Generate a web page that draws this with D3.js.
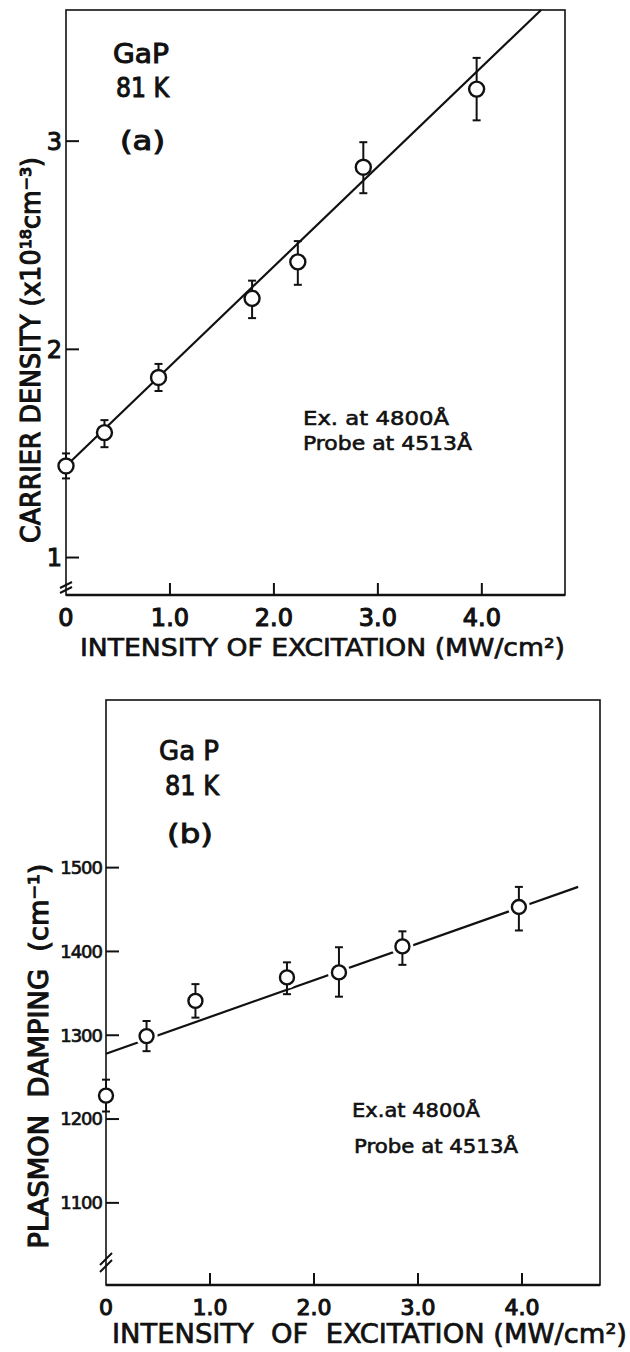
<!DOCTYPE html>
<html>
<head>
<meta charset="utf-8">
<script src="https://cdn.jsdelivr.net/npm/d3@7"></script>
<style>
   body { margin: 0; background: #fff; }
   text { font-family: "DejaVu Sans", "Liberation Sans", sans-serif; fill: #111; white-space: pre; }
</style>
</head>
<body>
<div id="chart"></div>
<script>
// ---- panel (a): carrier density vs intensity ----
var intensityA = [0, 0.37, 0.89, 1.79, 2.23, 2.86, 3.95];
var densityA = [1.44, 1.60, 1.865, 2.245, 2.42, 2.875, 3.25];
var densityLoA = [1.38, 1.53, 1.80, 2.15, 2.31, 2.75, 3.10];
var densityHiA = [1.50, 1.66, 1.93, 2.33, 2.52, 2.995, 3.40];
var fitA = [[0, 1.44], [4.57, 3.63]];
var yTicksA = [1, 2, 3];

// ---- panel (b): plasmon damping vs intensity ----
var intensityB = [0, 0.39, 0.86, 1.74, 2.24, 2.85, 3.97];
var dampingB = [1228, 1299, 1341, 1369, 1375, 1406, 1453];
var dampingLoB = [1209, 1281, 1321, 1349, 1346, 1384, 1425];
var dampingHiB = [1247, 1317, 1361, 1387, 1405, 1424, 1477];
var fitB = [[0, 1278], [4.54, 1477]];
var yTicksB = [1100, 1200, 1300, 1400, 1500];

// shared x ticks
var xTicks = [0, 1, 2, 3, 4];
var xTickLabels = ["0", "1.0", "2.0", "3.0", "4.0"];

var svg = d3.select("#chart")
   .append("svg")
   .attr("width", 630)
   .attr("height", 1352);

function drawPanel(p) {
   var x = d3.scaleLinear().domain(p.xDomain).range(p.xRange);
   var y = d3.scaleLinear().domain(p.yDomain).range(p.yRange);
   var g = svg.append("g");

   var x0 = x(p.xDomain[0]), x1 = x(p.xDomain[1]);
   var y0 = y(p.yDomain[0]), y1 = y(p.yDomain[1]);

   // frame
   g.append("rect")
      .attr("x", x0).attr("y", y1)
      .attr("width", x1 - x0).attr("height", y0 - y1)
      .style("fill", "none").style("stroke", "#111").style("stroke-width", 1.6);
   // heavier bottom axis
   g.append("line")
      .attr("x1", x0).attr("x2", x1).attr("y1", y0).attr("y2", y0)
      .style("stroke", "#111").style("stroke-width", 2.4);

   // x ticks (inward) and labels
   g.selectAll(".xtick")
      .data(xTicks.filter(function (d) { return d > 0; }))
      .enter().append("line")
      .attr("x1", function (d) { return x(d); })
      .attr("x2", function (d) { return x(d); })
      .attr("y1", y0).attr("y2", y0 - 12)
      .style("stroke", "#111").style("stroke-width", 2);
   g.selectAll(".xlab")
      .data(xTicks)
      .enter().append("text")
      .attr("x", function (d) { return x(d); })
      .attr("y", p.xLabelY)
      .attr("text-anchor", "middle")
      .style("font-size", p.xTickSize + "px")
      .style("stroke", "#111").style("stroke-width", 1.1)
      .text(function (d, i) { return xTickLabels[i]; });

   // y ticks (inward) and labels
   g.selectAll(".ytick")
      .data(p.yTicks)
      .enter().append("line")
      .attr("x1", x0).attr("x2", x0 + 13)
      .attr("y1", function (d) { return y(d); })
      .attr("y2", function (d) { return y(d); })
      .style("stroke", "#111").style("stroke-width", 2);
   g.selectAll(".ylab")
      .data(p.yTicks)
      .enter().append("text")
      .attr("x", x0 - 4)
      .attr("y", function (d) { return y(d); })
      .attr("dy", "0.35em")
      .attr("text-anchor", "end")
      .style("font-size", p.yTickSize + "px")
      .style("letter-spacing", p.yTickSpacing)
      .style("stroke", "#111").style("stroke-width", p.yTickStroke)
      .text(function (d) { return d; });

   // axis break marks
   p.breaks.forEach(function (b) {
      g.append("line")
         .attr("x1", x0 - b[1]).attr("x2", x0 + b[1])
         .attr("y1", y0 - b[0] + b[2]).attr("y2", y0 - b[0] - b[2])
         .style("stroke", "#111").style("stroke-width", 2);
   });

   // fitted line
   g.append("path")
      .datum(p.fit)
      .attr("d", d3.line()
         .x(function (d) { return x(d[0]); })
         .y(function (d) { return y(d[1]); }))
      .style("fill", "none").style("stroke", "#111").style("stroke-width", 2.2);

   var pts = p.xs.map(function (v, i) {
      return { x: v, y: p.ys[i], lo: p.lo[i], hi: p.hi[i] };
   });

   // white halo where the drawn line stops short of the markers
   if (p.halo) {
      g.selectAll(".halo")
         .data(pts)
         .enter().append("circle")
         .attr("cx", function (d) { return x(d.x); })
         .attr("cy", function (d) { return y(d.y); })
         .attr("r", p.halo)
         .style("fill", "#fff");
   }

   // error bars
   g.selectAll(".err")
      .data(pts)
      .enter().append("line")
      .attr("x1", function (d) { return x(d.x); })
      .attr("x2", function (d) { return x(d.x); })
      .attr("y1", function (d) { return y(d.lo); })
      .attr("y2", function (d) { return y(d.hi); })
      .style("stroke", "#111").style("stroke-width", 2);
   ["lo", "hi"].forEach(function (k) {
      g.selectAll(".cap-" + k)
         .data(pts)
         .enter().append("line")
         .attr("x1", function (d) { return x(d.x) - 4; })
         .attr("x2", function (d) { return x(d.x) + 4; })
         .attr("y1", function (d) { return y(d[k]); })
         .attr("y2", function (d) { return y(d[k]); })
         .style("stroke", "#111").style("stroke-width", 2);
   });

   // open circle markers
   g.selectAll(".pt")
      .data(pts)
      .enter().append("circle")
      .attr("cx", function (d) { return x(d.x); })
      .attr("cy", function (d) { return y(d.y); })
      .attr("r", p.r)
      .style("fill", "#fff").style("stroke", "#111").style("stroke-width", 2.4);

   // axis titles
   g.append("text")
      .attr("transform", "translate(" + p.yTitle.x + "," + p.yTitle.y + ") rotate(-90)")
      .attr("text-anchor", "middle")
      .attr("textLength", p.yTitle.len)
      .attr("lengthAdjust", "spacingAndGlyphs")
      .style("font-size", p.yTitle.size + "px")
      .style("stroke", "#111").style("stroke-width", 1.1)
      .text(p.yTitle.text);
   g.append("text")
      .attr("x", p.xTitle.x)
      .attr("y", p.xTitle.y)
      .attr("textLength", p.xTitle.len)
      .attr("lengthAdjust", "spacingAndGlyphs")
      .style("font-size", p.xTitle.size + "px")
      .style("stroke", "#111").style("stroke-width", 0.7)
      .text(p.xTitle.text);

   // annotations
   p.notes.forEach(function (n) {
      g.append("text")
         .attr("x", n.x).attr("y", n.y)
         .attr("textLength", n.len)
         .attr("lengthAdjust", "spacingAndGlyphs")
         .style("font-size", n.size + "px")
         .style("stroke", "#111").style("stroke-width", n.w)
         .text(n.t);
   });
}

drawPanel({
   xs: intensityA, ys: densityA, lo: densityLoA, hi: densityHiA, fit: fitA,
   xDomain: [0, 4.8], xRange: [66, 565],
   yDomain: [0.82, 3.63], yRange: [595, 10],
   yTicks: yTicksA, yTickSize: 24, yTickSpacing: "0px", yTickStroke: 1.0,
   xTickSize: 24, xLabelY: 626,
   breaks: [[5, 6, 3], [10, 6, 3]],
   r: 7.5, halo: 0,
   yTitle: { x: 40, y: 350, len: 386, size: 26, text: "CARRIER DENSITY (x10\u00b9\u2078cm\u207b\u00b3)" },
   xTitle: { x: 80, y: 656, len: 485, size: 25, text: "INTENSITY OF EXCITATION (MW/cm\u00b2)" },
   notes: [
      { x: 113, y: 63, len: 56, size: 26, w: 1.0, t: "GaP" },
      { x: 116, y: 97, len: 53, size: 26, w: 1.0, t: "81 K" },
      { x: 120, y: 150, len: 45, size: 26, w: 1.0, t: "(a)" },
      { x: 303, y: 425, len: 146, size: 20, w: 0.6, t: "Ex. at 4800\u00c5" },
      { x: 303, y: 450, len: 169, size: 20, w: 0.6, t: "Probe at 4513\u00c5" }
   ]
});

drawPanel({
   xs: intensityB, ys: dampingB, lo: dampingLoB, hi: dampingHiB, fit: fitB,
   xDomain: [0, 4.75], xRange: [106, 600],
   yDomain: [1002, 1700], yRange: [1285, 700],
   yTicks: yTicksB, yTickSize: 18, yTickSpacing: "-1px", yTickStroke: 0.7,
   xTickSize: 22, xLabelY: 1315,
   breaks: [[19, 6, 6], [26, 6, 6]],
   r: 7, halo: 11,
   yTitle: { x: 48, y: 1056, len: 385, size: 26, text: "PLASMON  DAMPING  (cm\u207b\u00b9)" },
   xTitle: { x: 112, y: 1343, len: 515, size: 26, text: "INTENSITY  OF  EXCITATION (MW/cm\u00b2)" },
   notes: [
      { x: 159, y: 760, len: 60, size: 26, w: 0.9, t: "Ga P" },
      { x: 165, y: 795, len: 54, size: 26, w: 0.9, t: "81 K" },
      { x: 167, y: 843, len: 46, size: 26, w: 0.9, t: "(b)" },
      { x: 352, y: 1117, len: 128, size: 20, w: 0.6, t: "Ex.at 4800\u00c5" },
      { x: 354, y: 1153, len: 164, size: 20, w: 0.6, t: "Probe at 4513\u00c5" }
   ]
});
</script>
</body>
</html>
